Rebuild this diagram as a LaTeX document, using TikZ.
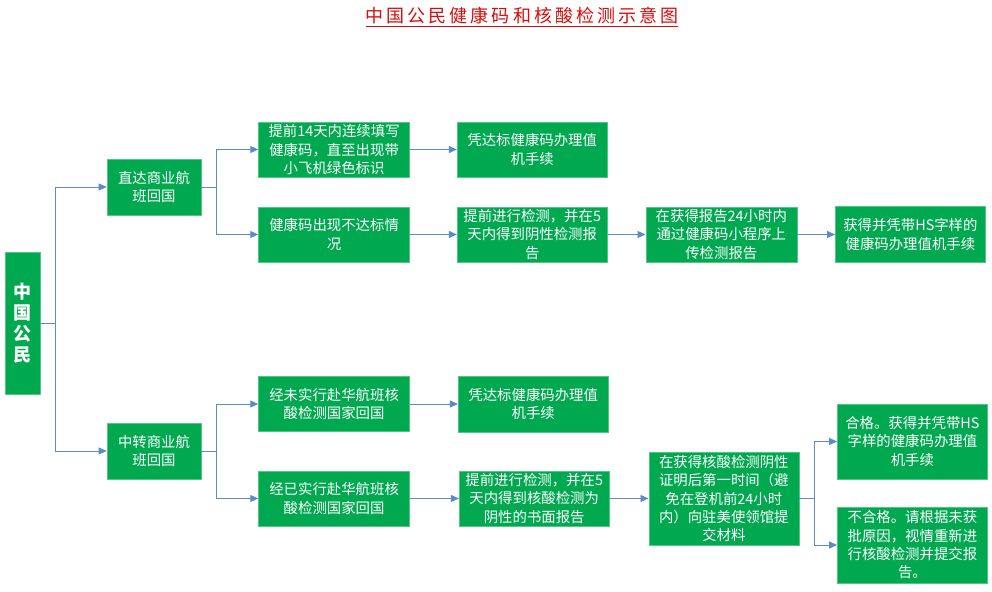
\documentclass[tikz,border=0pt]{standalone}
\usepackage{fontspec}
\newfontfamily\cjk{Noto Sans CJK SC}
\newfontfamily\cjktitle[LetterSpace=17]{Noto Sans CJK SC}
\usetikzlibrary{positioning,arrows.meta}

\definecolor{boxgreen}{RGB}{0,168,80}
\definecolor{boxedge}{RGB}{80,200,130}
\definecolor{linkblue}{RGB}{91,139,200}
\definecolor{titlered}{RGB}{220,10,10}

\tikzset{
  flowbox/.style={fill=boxgreen, draw=boxedge, line width=0.6pt, text=white,
    align=center, inner sep=0pt, minimum width=151pt, minimum height=55pt,
    font=\cjk\fontsize{14.4}{18.3}\selectfont},
  smallbox/.style={flowbox, minimum width=94pt, minimum height=56pt},
  rootbox/.style={flowbox, minimum width=35pt, minimum height=142pt,
    font=\cjk\bfseries\fontsize{18}{21}\selectfont},
  titletext/.style={text=titlered, inner sep=0pt,
    font=\cjktitle\fontsize{18}{22}\selectfont},
  link/.style={draw=linkblue, line width=0.9pt, ->}
}

\begin{document}
\begin{tikzpicture}[x=1pt, y=-1pt, >={Triangle[length=8pt,width=7pt]}]
        \useasboundingbox [fill=white] (0,0) rectangle (992,591);

        \node (title) [titletext] at (522,17) {\underline{中国公民健康码和核酸检测示意图}};

        \node (root) [rootbox] at (22.5,323) {中\\国\\公\\民};

        \node (direct)   [smallbox] at (154,187) {直达商业航\\班回国};
        \node (transfer) [smallbox] at (154,451) {中转商业航\\班回国};

        \node (fill14)  [flowbox, right=57pt of direct, yshift=37.5pt]  {提前14天内连续填写\\健康码，直至出现带\\小飞机绿色标识};
        \node (failed)  [flowbox, right=57pt of direct, yshift=-47.5pt] {健康码出现不达标情\\况};
        \node (nottest) [flowbox, right=57pt of transfer, yshift=47pt]   {经未实行赴华航班核\\酸检测国家回国};
        \node (test)    [flowbox, right=57pt of transfer, yshift=-47.5pt] {经已实行赴华航班核\\酸检测国家回国};

        \node (checkin1) [flowbox, minimum width=150pt, right=47pt of fill14]  {凭达标健康码办理值\\机手续};
        \node (pretest1) [flowbox, minimum width=150pt, right=47pt of failed]  {提前进行检测，并在5\\天内得到阴性检测报\\告};
        \node (upload)   [flowbox, right=38pt of pretest1]                     {在获得报告24小时内\\通过健康码小程序上\\传检测报告};
        \node (hscode1)  [flowbox, minimum width=150pt, minimum height=56pt, right=38pt of upload] {获得并凭带HS字样的\\健康码办理值机手续};

        \node (checkin2) [flowbox, minimum width=150pt, minimum height=56pt, right=48pt of nottest] {凭达标健康码办理值\\机手续};
        \node (pretest2) [flowbox, minimum width=150pt, right=49pt of test]    {提前进行检测，并在5\\天内得到核酸检测为\\阴性的书面报告};
        \node (submit)   [flowbox, minimum width=150pt, minimum height=93pt, right=39pt of pretest2] {在获得核酸检测阴性\\证明后第一时间（避\\免在登机前24小时\\内）向驻美使领馆提\\交材料};
        \node (pass)     [flowbox, minimum width=150pt, minimum height=75pt, right=38pt of submit, yshift=57pt]    {合格。获得并凭带HS\\字样的健康码办理值\\机手续};
        \node (refuse)   [flowbox, minimum width=150pt, minimum height=76pt, right=38pt of submit, yshift=-46.5pt] {不合格。请根据未获\\批原因，视情重新进\\行核酸检测并提交报\\告。};

        \draw [link] (root.east) -- ++(15,0) |- (direct.west);
        \draw [link] (root.east) -- ++(15,0) |- (transfer.west);

        \draw [link] (direct.east) -- ++(15,0) |- (fill14.west);
        \draw [link] (direct.east) -- ++(15,0) |- (failed.west);
        \draw [link] (transfer.east) -- ++(15,0) |- (nottest.west);
        \draw [link] (transfer.east) -- ++(15,0) |- (test.west);

        \draw [link] (fill14) to (checkin1);
        \draw [link] (failed) to (pretest1);
        \draw [link] (pretest1) to (upload);
        \draw [link] (upload) to (hscode1);

        \draw [link] (nottest) to (checkin2);
        \draw [link] (test) to (pretest2);
        \draw [link] (pretest2) to (submit);

        \draw [link] (submit.east) -- ++(15,0) |- (pass.west);
        \draw [link] (submit.east) -- ++(15,0) |- (refuse.west);
      \end{tikzpicture}
\end{document}
